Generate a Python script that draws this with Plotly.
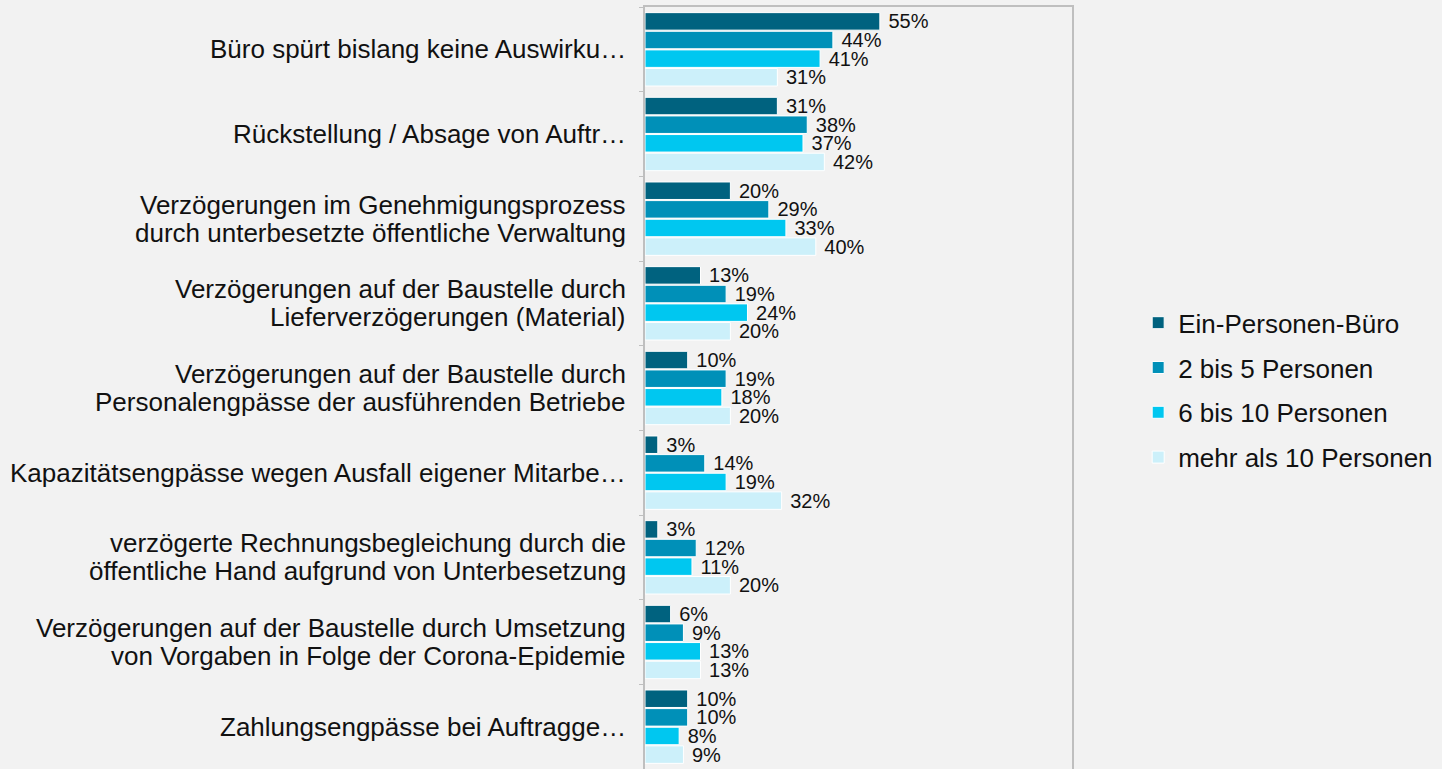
import plotly.graph_objects as go

# Kategorien (von oben nach unten)
categories = [
    "Büro spürt bislang keine Auswirku…",
    "Rückstellung / Absage von Auftr…",
    "Verzögerungen im Genehmigungsprozess<br>durch unterbesetzte öffentliche Verwaltung",
    "Verzögerungen auf der Baustelle durch<br>Lieferverzögerungen (Material)",
    "Verzögerungen auf der Baustelle durch<br>Personalengpässe der ausführenden Betriebe",
    "Kapazitätsengpässe wegen Ausfall eigener Mitarbe…",
    "verzögerte Rechnungsbegleichung durch die<br>öffentliche Hand aufgrund von Unterbesetzung",
    "Verzögerungen auf der Baustelle durch Umsetzung<br>von Vorgaben in Folge der Corona-Epidemie",
    "Zahlungsengpässe bei Auftragge…",
]

series_names = ["Ein-Personen-Büro", "2 bis 5 Personen", "6 bis 10 Personen", "mehr als 10 Personen"]

ein_personen = [55, 31, 20, 13, 10, 3, 3, 6, 10]
zwei_bis_fuenf = [44, 38, 29, 19, 19, 14, 12, 9, 10]
sechs_bis_zehn = [41, 37, 33, 24, 18, 19, 11, 13, 8]
mehr_als_zehn = [31, 42, 40, 20, 20, 32, 20, 13, 9]

colors = ["#00627f", "#0090b8", "#00c7f0", "#ccf0fa"]

FONT = "Arial, Liberation Sans, sans-serif"
TEXT_COL = "#111111"

fig = go.Figure()
for name, vals, col in zip(series_names, [ein_personen, zwei_bis_fuenf, sechs_bis_zehn, mehr_als_zehn], colors):
    fig.add_trace(go.Bar(
        y=categories,
        x=vals,
        name=name,
        legendgroup=name,
        orientation="h",
        marker=dict(color=col, line=dict(color="white", width=1)),
        text=[f" {v}%" for v in vals],
        textposition="outside",
        constraintext="none",
        cliponaxis=False,
        textfont=dict(family=FONT, size=20, color=TEXT_COL),
    ))

# category labels as annotations so that two-line labels keep a tight line spacing
for cat in categories:
    lines = cat.split("<br>")
    n = len(lines)
    for i, line in enumerate(lines):
        fig.add_annotation(
            x=0, xref="paper", y=cat, yref="y",
            text=line, showarrow=False,
            xanchor="right", yanchor="middle",
            xshift=-17, yshift=(n - 1) * 14 - i * 28,
            font=dict(family=FONT, size=26, color=TEXT_COL),
        )

fig.update_layout(
    width=1442,
    height=769,
    barmode="group",
    bargap=0.12,
    bargroupgap=0.06,
    paper_bgcolor="#f2f2f2",
    plot_bgcolor="#f2f2f2",
    margin=dict(l=645, r=370, t=7, b=0),
    font=dict(family=FONT, size=26, color=TEXT_COL),
    showlegend=True,
    legend=dict(
        x=1.155, y=0.497, xref="paper", yref="paper",
        xanchor="left", yanchor="middle",
        font=dict(family=FONT, size=26, color=TEXT_COL),
        tracegroupgap=8,
        bgcolor="rgba(0,0,0,0)",
    ),
    xaxis=dict(
        range=[0, 100],
        showticklabels=False,
        showgrid=False,
        zeroline=False,
        showline=True,
        mirror=True,
        linecolor="#bfbfbf",
        linewidth=1.5,
        ticks="",
    ),
    yaxis=dict(
        autorange="reversed",
        showgrid=False,
        showline=True,
        mirror=True,
        linecolor="#bfbfbf",
        linewidth=1.5,
        ticks="outside",
        tickson="boundaries",
        ticklen=4,
        tickcolor="#bfbfbf",
        showticklabels=False,
    ),
)

fig.write_html(
    "out.html",
    config={"displayModeBar": False},
    post_script="document.body.style.margin='0';document.body.style.padding='0';"
                "document.documentElement.style.background='#f2f2f2';",
)
